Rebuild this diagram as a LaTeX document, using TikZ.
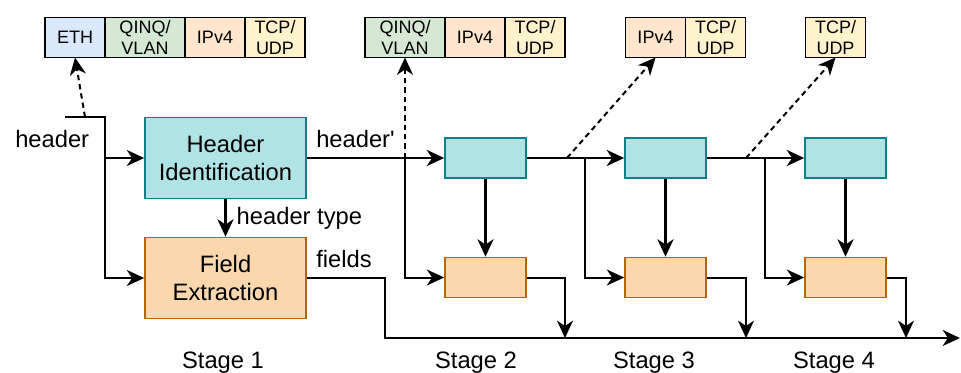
\documentclass[tikz,border=0pt]{standalone}
\usepackage{fontspec}
\setmainfont{Liberation Sans}[Ligatures=TeXOff]
\usepackage{tikz}
\usetikzlibrary{arrows.meta,positioning}
\definecolor{Teal}{HTML}{0E8088}
\definecolor{TealFill}{HTML}{B0E3E6}
\definecolor{Brown}{HTML}{B46504}
\definecolor{Peach}{HTML}{FAD7AC}
\definecolor{EthBlue}{HTML}{DAE8FC}
\definecolor{VlanGreen}{HTML}{D5E8D4}
\definecolor{IpOrange}{HTML}{FFE6CC}
\definecolor{TcpYellow}{HTML}{FFF2CC}

\begin{document}
\begin{tikzpicture}[
  x=0.75pt,y=-0.75pt,
  node distance=0pt,
  font=\fontsize{17.8}{21}\selectfont,
  boxid/.style={draw=Teal,fill=TealFill,line width=1.3pt,minimum width=60.75pt,minimum height=30pt,inner sep=0pt,align=center},
  boxfe/.style={draw=Brown,fill=Peach,line width=1.3pt,minimum width=60.75pt,minimum height=30pt,inner sep=0pt,align=center},
  cell/.style={draw=black,line width=1.1pt,minimum width=45pt,minimum height=30pt,inner sep=0pt,outer sep=0pt,align=center,font=\fontsize{13.5}{15.5}\selectfont},
  arrow/.style={-{Stealth[length=13pt,width=12pt,inset=4pt]},line width=2.2pt},
  branch/.style={-{Stealth[length=13pt,width=12pt,inset=4pt]},line width=1.5pt},
  dasharrow/.style={branch,dash pattern=on 4pt off 3pt},
  tag/.style={anchor=base west,inner sep=0pt}
]
\useasboundingbox (0,0) rectangle (961,372);

% header stacks
\node[cell,fill=EthBlue] (eth1) at (75,37.5) {ETH};
\node[cell,fill=VlanGreen,minimum width=60pt,right=of eth1] (vlan1) {QINQ/\\VLAN};
\node[cell,fill=IpOrange,right=of vlan1] (ip1) {IPv4};
\node[cell,fill=TcpYellow,right=of ip1] (tcp1) {TCP/\\UDP};
\node[cell,fill=VlanGreen,minimum width=60pt] (vlan2) at (405,37.5) {QINQ/\\VLAN};
\node[cell,fill=IpOrange,right=of vlan2] (ip2) {IPv4};
\node[cell,fill=TcpYellow,right=of ip2] (tcp2) {TCP/\\UDP};
\node[cell,fill=IpOrange] (ip3) at (655.5,37.5) {IPv4};
\node[cell,fill=TcpYellow,right=of ip3] (tcp3) {TCP/\\UDP};
\node[cell,fill=TcpYellow] (tcp4) at (835.5,37.5) {TCP/\\UDP};

% stages
\node[boxid,minimum width=120.75pt,minimum height=60.75pt] (id1) at (225.5,158) {Header\\Identification};
\node[boxfe,minimum width=120.75pt,minimum height=60.75pt] (fe1) at (225.5,278) {Field\\Extraction};
\node[boxid] (id2) at (485.5,158) {};
\node[boxfe] (fe2) at (485.5,277.5) {};
\node[boxid] (id3) at (665.5,158) {};
\node[boxfe] (fe3) at (665.5,277.5) {};
\node[boxid] (id4) at (845.5,158) {};
\node[boxfe] (fe4) at (845.5,277.5) {};

% labels
\node[tag] (hdr) at (15,147) {header};
\node[tag] (hdrp) at (316,147) {header'};
\node[tag] (flds) at (316,267) {fields};
\node[anchor=base] (s1) at (223,368) {Stage 1};
\node[anchor=base] (s2) at (476,368) {Stage 2};
\node[anchor=base] (s3) at (654,368) {Stage 3};
\node[anchor=base] (s4) at (834,368) {Stage 4};

% junctions
\coordinate (hin) at (65,117);
\coordinate (j1) at (105,117);
\coordinate (t1) at (85,117);
\coordinate (j2) at (405,158);
\coordinate (d3) at (567,158);
\coordinate (j3) at (585,158);
\coordinate (d4) at (746,158);
\coordinate (j4) at (765,158);
\coordinate (m1) at (385,338);
\coordinate (m2) at (565,338);
\coordinate (m3) at (746,338);
\coordinate (m4) at (906,338);
\coordinate (out) at (960,338);

% stage 1
\draw[branch] (hin) -- (j1) |- (fe1.west);
\draw[branch] (j1 |- id1.west) -- (id1.west);
\draw[dasharrow] (t1) -- (eth1.south);
\draw[arrow] (id1) -- node[right=4pt] {header type} (fe1);
\draw[branch] (fe1.east) -| (m1) -- (out);

% stage 2
\draw[arrow] (id1) -- (id2);
\draw[dasharrow] (j2) -- (vlan2.south);
\draw[branch] (j2) |- (fe2.west);
\draw[arrow] (id2) -- (fe2);
\draw[branch] (fe2.east) -| (m2);

% stage 3
\draw[arrow] (id2) -- (id3);
\draw[dasharrow] (d3) -- (ip3.south);
\draw[branch] (j3) |- (fe3.west);
\draw[arrow] (id3) -- (fe3);
\draw[branch] (fe3.east) -| (m3);

% stage 4
\draw[arrow] (id3) -- (id4);
\draw[dasharrow] (d4) -- (tcp4.south);
\draw[branch] (j4) |- (fe4.west);
\draw[arrow] (id4) -- (fe4);
\draw[branch] (fe4.east) -| (m4);
\end{tikzpicture}
\end{document}
